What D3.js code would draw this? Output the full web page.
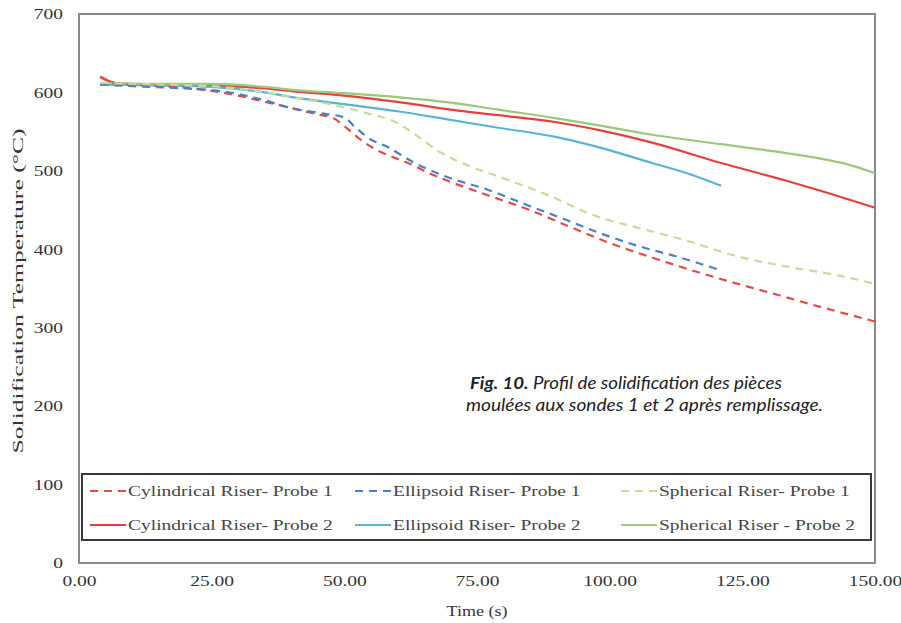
<!DOCTYPE html>
<meta charset="utf-8">
<style>
body { margin: 0; background: #fff; }
.tick text { font-family: "Liberation Serif", serif; font-size: 15px; fill: #333; }
.axis-title { font-family: "Liberation Serif", serif; font-size: 15px; fill: #333; }
.legend text { font-family: "Liberation Serif", serif; font-size: 15px; fill: #444; }
.caption { font-family: Lato, sans-serif; font-size: 17px; font-style: italic; fill: #222; }
</style>
<body>
<svg width="901" height="623"></svg>
<script src="https://cdn.jsdelivr.net/npm/d3@7"></script>
<script>

var xTicks = [0, 25, 50, 75, 100, 125, 150];
var yTicks = [0, 100, 200, 300, 400, 500, 600, 700];

// [time (s), temperature (°C)]
var cylProbe1 = [[4,620],[7,611],[12,609],[20,606],[25,602],[30,596],[35,588],[40,580],[45,572],[48,567],[50,557],[53,540],[56,527],[59,518],[62,510],[66,497],[70,486],[77,469],[85,450],[92,430],[100,408],[110,385],[122,360],[130,345],[140,326],[150,308]];
var ellProbe1 = [[4,610],[10,608],[20,605],[25,603],[30,598],[35,590],[40,580],[45,574],[50,568],[52,556],[55,540],[58,531],[63,511],[69,493],[77,476],[85,455],[92,437],[98,421],[105,405],[113,390],[121,373]];
var sphProbe1 = [[4,612],[15,610],[25,608],[35,600],[42,592],[48,584],[54,574],[60,561],[63,548],[68,524],[74,505],[79,493],[88,470],[98,441],[105,428],[115,410],[123,393],[135,376],[142,368],[150,356]];
var cylProbe2 = [[4,620],[7,612],[15,610],[25,609],[35,605],[41,601],[50,596],[60,588],[70,578],[79,571],[90,562],[98,552],[108,536],[121,510],[133,488],[141,472],[150,453]];
var ellProbe2 = [[4,610],[15,609],[25,607],[35,600],[41,593],[50,585],[60,576],[70,565],[79,555],[90,543],[98,530],[108,510],[115,496],[121,481]];
var sphProbe2 = [[4,612],[15,611],[25,611],[35,607],[41,603],[50,599],[60,594],[70,587],[79,578],[90,567],[98,558],[108,546],[121,534],[133,523],[141,514],[145,508],[150,497]];

var seriesNames = ["Cylindrical Riser- Probe 1", "Ellipsoid Riser- Probe 1", "Spherical Riser- Probe 1",
                   "Cylindrical Riser- Probe 2", "Ellipsoid Riser- Probe 2", "Spherical Riser - Probe 2"];
var seriesData = [cylProbe1, ellProbe1, sphProbe1, cylProbe2, ellProbe2, sphProbe2];
var seriesColors = ["#e34a4a", "#4a80c4", "#c5dc9a", "#e5403d", "#58b4d6", "#9cc87a"];
var seriesDashed = [true, true, true, false, false, false];

var svg = d3.select("svg");

var x = d3.scaleLinear().domain([0, 150]).range([79, 875]);
var y = d3.scaleLinear().domain([0, 700]).range([563, 14]);

// the source figure is stretched horizontally, text included
function stretch(sel, k) {
  sel.each(function() {
    var w = this.getComputedTextLength();
    d3.select(this).attr("textLength", w * k).attr("lengthAdjust", "spacingAndGlyphs");
  });
}

// plot frame
svg.append("rect")
    .attr("x", x(0)).attr("y", y(700))
    .attr("width", x(150) - x(0)).attr("height", y(0) - y(700))
    .attr("fill", "none").attr("stroke", "#8a8a8a").attr("stroke-width", 2);

svg.append("g")
    .attr("transform", "translate(0," + y(0) + ")")
    .call(d3.axisBottom(x).tickValues(xTicks).tickSize(0).tickPadding(12)
      .tickFormat(function(d) { return d.toFixed(2); }))
    .call(function(g) { g.select(".domain").remove(); });

svg.append("g")
    .attr("transform", "translate(" + x(0) + ",0)")
    .call(d3.axisLeft(y).tickValues(yTicks).tickSize(0).tickPadding(16))
    .call(function(g) { g.select(".domain").remove(); });

stretch(svg.selectAll(".tick text"), 1.3);

var xTitle = svg.append("text")
    .attr("class", "axis-title")
    .attr("x", 477).attr("y", 616)
    .attr("text-anchor", "middle")
    .text("Time (s)");
stretch(xTitle, 1.2);

svg.append("text")
    .attr("class", "axis-title")
    .attr("transform", "translate(23,291) rotate(-90)")
    .attr("text-anchor", "middle")
    .attr("textLength", 325).attr("lengthAdjust", "spacingAndGlyphs")
    .text("Solidification Temperature (°C)");

var line = d3.line()
    .x(function(d) { return x(d[0]); })
    .y(function(d) { return y(d[1]); })
    .curve(d3.curveMonotoneX);

// solid lines first, dashed on top
var order = [3, 4, 5, 0, 1, 2];
svg.append("g").selectAll("path")
    .data(order)
  .enter().append("path")
    .attr("d", function(i) { return line(seriesData[i]); })
    .attr("fill", "none")
    .attr("stroke", function(i) { return seriesColors[i]; })
    .attr("stroke-width", 2.2)
    .attr("stroke-dasharray", function(i) { return seriesDashed[i] ? "8,6" : null; });

// caption
var cap = svg.append("text").attr("class", "caption").attr("x", 470).attr("y", 389)
    .attr("textLength", 312).attr("lengthAdjust", "spacingAndGlyphs");
cap.append("tspan").attr("font-weight", "bold").text("Fig. 10.");
cap.append("tspan").text(" Profil de solidification des pièces");
svg.append("text").attr("class", "caption").attr("x", 466).attr("y", 411)
    .attr("textLength", 357).attr("lengthAdjust", "spacingAndGlyphs")
    .text("moulées aux sondes 1 et 2 après remplissage.");

// legend
var legend = svg.append("g").attr("class", "legend");
legend.append("rect")
    .attr("x", 82).attr("y", 474).attr("width", 789).attr("height", 66)
    .attr("fill", "#fff").attr("stroke", "#3a3a3a").attr("stroke-width", 2);

var colX = [90, 355, 621];
var rowY = [491, 525];
var items = legend.selectAll("g.item")
    .data(seriesNames.map(function(n, i) { return i; }))
  .enter().append("g")
    .attr("class", "item")
    .attr("transform", function(i) { return "translate(" + colX[i % 3] + "," + rowY[Math.floor(i / 3)] + ")"; });

items.append("line")
    .attr("x1", 0).attr("x2", 36).attr("y1", 0).attr("y2", 0)
    .attr("stroke", function(i) { return seriesColors[i]; })
    .attr("stroke-width", 2.2)
    .attr("stroke-dasharray", function(i) { return seriesDashed[i] ? "8,6" : null; });

items.append("text")
    .attr("x", 38)
    .attr("y", 5)
    .text(function(i) { return seriesNames[i]; });

stretch(items.selectAll("text"), 1.3);

</script>
</body>
